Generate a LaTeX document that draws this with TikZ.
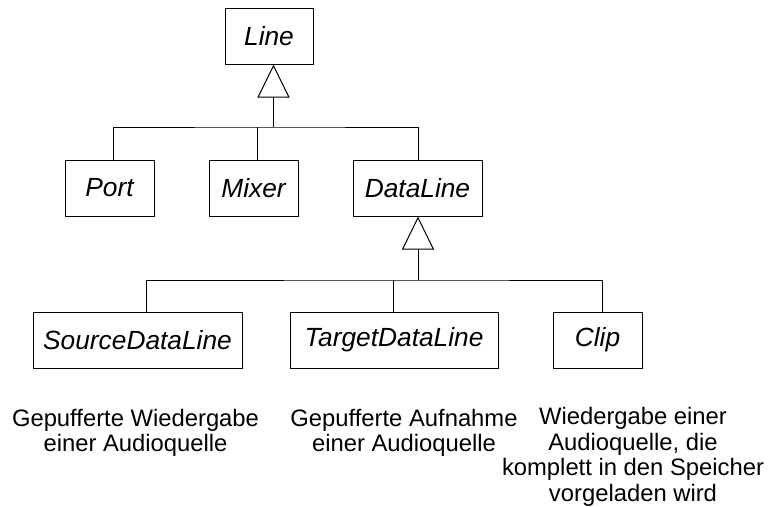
\documentclass[tikz,border=0pt]{standalone}
\usepackage{fontspec}
\setmainfont{Liberation Sans}
\usetikzlibrary{arrows.meta}
\begin{document}
\begin{tikzpicture}[x=1pt,y=-1pt,
  cls/.style={draw,line width=1pt,inner sep=0pt,font=\fontsize{26.3}{30}\selectfont\itshape},
  desc/.style={align=center,inner sep=0pt,font=\fontsize{23.8}{25.5}\selectfont},
  conn/.style={line width=1pt},
  gen/.style={line width=1pt,-{Triangle[open,length=33pt,width=32pt,line width=1pt]}}]
\useasboundingbox (0,0) rectangle (770,506);
\node[cls,minimum width=88pt,minimum height=56pt] (line) at (269,36) {Line};
\node[cls,minimum width=89pt,minimum height=56pt] (port) at (109.5,188) {Port};
\node[cls,minimum width=89pt,minimum height=56pt] (mixer) at (253.5,188) {Mixer};
\node[cls,minimum width=129pt,minimum height=56pt] (dataline) at (417.5,188) {DataLine};
\node[cls,minimum width=209pt,minimum height=56pt] (source) at (137.5,340) {SourceDataLine};
\node[cls,minimum width=208pt,minimum height=56pt] (target) at (394,340) {TargetDataLine};
\node[cls,minimum width=89pt,minimum height=56pt] (clip) at (597.5,340) {Clip};
\coordinate (j1) at (273.5,127);
\coordinate (j2) at (418,280);
\draw[conn] ([xshift=3.5pt]port.north) |- (j1) -| ([xshift=0.5pt]dataline.north);
\draw[conn] ([xshift=3.5pt]mixer.north) -- ([xshift=3.5pt]mixer.north |- j1);
\draw[gen] (j1) -- (j1 |- line.south);
\draw[conn] ([xshift=8.5pt]source.north) |- (j2) -| ([xshift=4.5pt]clip.north);
\draw[conn] ([xshift=-1pt]target.north) -- ([xshift=-1pt]target.north |- j2);
\draw[gen] (j2) -- (j2 |- dataline.south);
\node[desc] (d1) at (135.5,433) {Gepufferte Wiedergabe\\einer Audioquelle};
\node[desc] (d2) at (404,433) {Gepufferte Aufnahme\\einer Audioquelle};
\node[desc] (d3) at (633,457) {Wiedergabe einer\\Audioquelle, die\\komplett in den Speicher\\vorgeladen wird};
\end{tikzpicture}
\end{document}
